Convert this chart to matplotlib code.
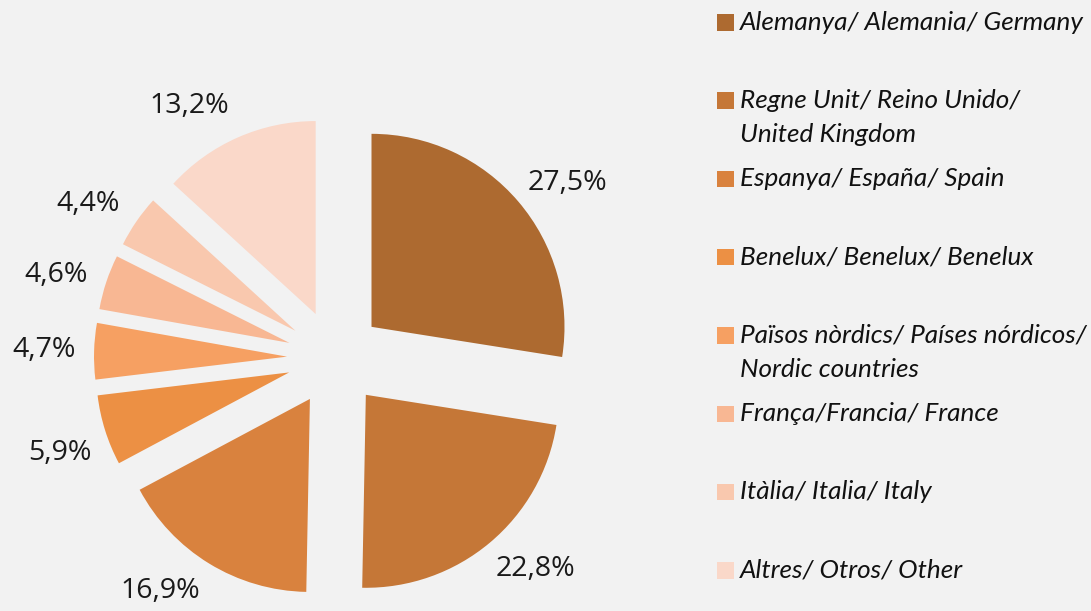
import numpy as np
import matplotlib
matplotlib.use("Agg")
import matplotlib.pyplot as plt
from matplotlib.patches import Rectangle

categories = [
    "Alemanya/ Alemania/ Germany",
    "Regne Unit/ Reino Unido/\nUnited Kingdom",
    "Espanya/ España/ Spain",
    "Benelux/ Benelux/ Benelux",
    "Països nòrdics/ Países nórdicos/\nNordic countries",
    "França/Francia/ France",
    "Itàlia/ Italia/ Italy",
    "Altres/ Otros/ Other",
]
values = [27.5, 22.8, 16.9, 5.9, 4.7, 4.6, 4.4, 13.2]
colors = ["#AD6A30", "#C57737", "#D9823E", "#EC9044", "#F6A062",
          "#F8B793", "#F9C8AE", "#FAD8C9"]

BG = "#F2F2F2"
W, H = 1091, 611
fig = plt.figure(figsize=(W / 100, H / 100), dpi=100, facecolor=BG)
ax = fig.add_axes([0, 0, 1, 1])
ax.set_facecolor(BG)

center = (335, H - 358)
radius = 193
expl = 48
label_dist = 291
label_nudge = [-3.5, 3.6, -5.3, 1.5, 0, 1.8, 2.5, 6.4]

wedges, texts, autotexts = ax.pie(
    values, colors=colors, startangle=90, counterclock=False,
    explode=[expl] * len(values), radius=radius, center=center,
    autopct=lambda p: f"{p:.1f}%".replace(".", ","), pctdistance=1.0,
    wedgeprops=dict(linewidth=0), normalize=True,
    textprops=dict(fontsize=20.5, family="Open Sans", color="#1a1a1a"))

for w, t, nd in zip(wedges, autotexts, label_nudge):
    a = np.deg2rad(0.5 * (w.theta1 + w.theta2) + nd)
    t.set_position((center[0] + label_dist * np.cos(a),
                    center[1] + label_dist * np.sin(a)))
    t.set_ha("center"); t.set_va("center")

ax.set_xlim(0, W)
ax.set_ylim(0, H)
ax.set_aspect("auto")
ax.axis("off")

# legend
top_y = 22
step = 78.3
line_gap = 34
for i, (lab, c) in enumerate(zip(categories, colors)):
    y = H - (top_y + i * step)
    ax.add_patch(Rectangle((717, y - 8.5), 16.5, 16.5, facecolor=c, linewidth=0))
    for j, line in enumerate(lab.split("\n")):
        ax.text(740, y - j * line_gap, line, fontsize=18.8, family="Lato",
                style="italic", ha="left", va="center", color="#111111")

fig.savefig("out.png", dpi=100, facecolor=BG)
